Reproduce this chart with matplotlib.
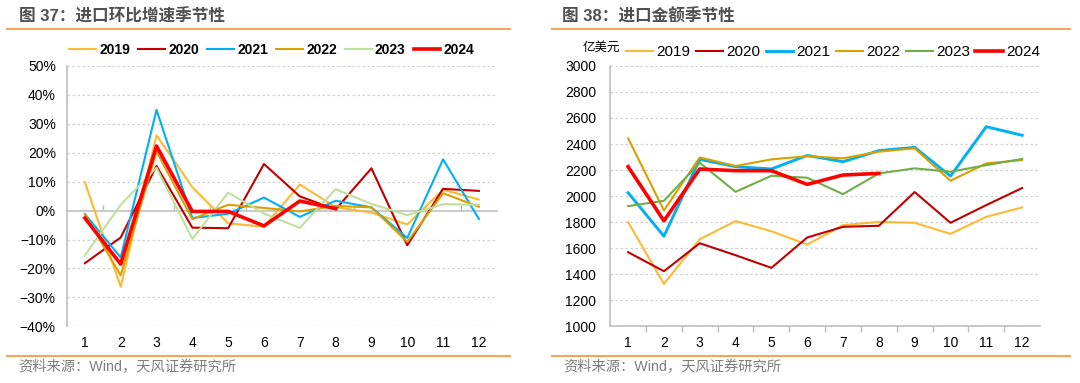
import numpy as np
import matplotlib
matplotlib.use("Agg")
from matplotlib import pyplot as plt
from matplotlib.lines import Line2D
from matplotlib.ticker import FuncFormatter, FixedLocator

plt.rcParams['font.family'] = ['Liberation Sans', 'Noto Sans CJK SC', 'DejaVu Sans']

months = [str(m) for m in range(1, 13)]
years = ['2019', '2020', '2021', '2022', '2023', '2024']

# 图37 进口环比增速 (%)
mom_2019 = [9.8, -26.3, 26.0, 8.1, -4.4, -5.6, 9.0, 1.2, -0.7, -4.8, 7.2, 3.8]
mom_2020 = [-18.2, -9.3, 15.4, -5.9, -6.1, 16.1, 4.9, 0.4, 14.6, -12.0, 7.5, 6.8]
mom_2021 = [-1.2, -16.2, 34.8, -2.6, -1.1, 4.5, -2.2, 3.4, 1.1, -9.5, 17.7, -2.9]
mom_2022 = [-1.3, -22.4, 20.5, -3.0, 2.0, 0.9, -0.3, 1.6, 1.1, -10.8, 6.0, 1.3]
mom_2023 = [-15.5, 2.0, 14.8, -9.8, 6.2, -1.0, -6.0, 7.4, 2.3, -1.6, 2.2, 2.0]
mom_2024 = [-2.6, -18.5, 22.3, -0.3, -0.3, -5.3, 3.3, 0.7]

# 图38 进口金额 (亿美元)
amt_2019 = [1800, 1326, 1669, 1808, 1730, 1628, 1777, 1802, 1795, 1710, 1841, 1913]
amt_2020 = [1569, 1423, 1638, 1546, 1449, 1682, 1764, 1772, 2031, 1795, 1931, 2062]
amt_2021 = [2026, 1692, 2282, 2226, 2208, 2312, 2264, 2349, 2374, 2154, 2533, 2467]
amt_2022 = [2444, 1890, 2297, 2231, 2282, 2306, 2290, 2341, 2367, 2118, 2251, 2277]
amt_2023 = [1923, 1964, 2256, 2033, 2156, 2141, 2015, 2174, 2213, 2187, 2238, 2285]
amt_2024 = [2226, 1810, 2208, 2195, 2195, 2090, 2162, 2174]

left_colors = ['#FDB934', '#C00000', '#00B0F0', '#D9A000', '#BFE09B', '#FF0000']
right_colors = ['#FDB934', '#C00000', '#00B0F0', '#D9A000', '#70AD47', '#FF0000']

fig = plt.figure(figsize=(10.8, 3.83), dpi=100)

grid_col = '#D0D0D0'
axis_col = '#BFBFBF'
rule_col = '#F5A45C'


def style_axes(ax, ypad):
    ax.set_xlim(-0.5, 11.5)
    ax.set_xticks(range(12))
    ax.set_xticklabels(months)
    ax.tick_params(axis='x', length=0, labelsize=10, pad=7, colors='#000000')
    ax.tick_params(axis='y', length=0, labelsize=10, pad=ypad)
    for s in ['top', 'right']:
        ax.spines[s].set_visible(False)
    ax.spines['left'].set_color(axis_col)
    ax.spines['left'].set_linewidth(1.2)
    ax.yaxis.grid(True, color=grid_col, linestyle=(0, (2, 2)), linewidth=0.9)
    ax.set_axisbelow(True)


# ---------------- left chart
ax1 = fig.add_axes([0.062, 0.148, 0.398, 0.680])
mom = [mom_2019, mom_2020, mom_2021, mom_2022, mom_2023, mom_2024]
for i, (yr, vals) in enumerate(zip(years, mom)):
    lw = 2.6 if yr == '2024' else 1.5
    ax1.plot(range(len(vals)), vals, color=left_colors[i], lw=lw, label=yr,
             zorder=3 + (2 if yr == '2024' else 0))
ax1.set_ylim(-40, 50)
ax1.set_yticks(range(-40, 51, 10))
ax1.yaxis.set_major_formatter(FuncFormatter(lambda v, p: f"{v:.0f}%".replace('-', '\u2212')))
style_axes(ax1, 8)
ax1.spines['bottom'].set_visible(False)
# zero line with category ticks
sec = ax1.secondary_xaxis(40 / 90)
sec.spines['bottom'].set_color(axis_col)
sec.spines['bottom'].set_linewidth(1.2)
sec.xaxis.set_major_locator(FixedLocator(np.arange(0.5, 11, 1)))
sec.tick_params(axis='x', length=4, width=1, colors=axis_col, labelbottom=False, direction='in')
ax1.legend(loc='center', bbox_to_anchor=(272 / 1080, 1 - 50 / 383), bbox_transform=fig.transFigure,
           ncol=6, frameon=False, handlelength=1.9, handletextpad=0.25, columnspacing=0.6,
           prop={'size': 10, 'weight': 'bold'})

# ---------------- right chart
ax2 = fig.add_axes([0.565, 0.148, 0.398, 0.680])
amt = [amt_2019, amt_2020, amt_2021, amt_2022, amt_2023, amt_2024]
for i, (yr, vals) in enumerate(zip(years, amt)):
    if yr == '2024':
        lw = 2.6
    elif yr == '2021':
        lw = 2.1
    else:
        lw = 1.5
    ax2.plot(range(len(vals)), vals, color=right_colors[i], lw=lw, label=yr,
             zorder=3 + (2 if yr == '2024' else 0))
ax2.set_ylim(1000, 3000)
ax2.set_yticks(range(1000, 3001, 200))
style_axes(ax2, 10)
ax2.spines['bottom'].set_color(axis_col)
ax2.spines['bottom'].set_linewidth(1.2)
ax2.xaxis.set_minor_locator(FixedLocator(np.arange(0.5, 11, 1)))
ax2.tick_params(axis='x', which='minor', length=4, width=1, colors=axis_col)
ax2.legend(loc='center', bbox_to_anchor=(833 / 1080, 1 - 52 / 383), bbox_transform=fig.transFigure,
           ncol=6, frameon=False, handlelength=1.8, handletextpad=0.2, columnspacing=0.35,
           prop={'size': 11})
fig.text(583 / 1080, 1 - 48 / 383, '亿美元', fontsize=9, ha='left', va='center', color='#000000')

# ---------------- titles, rules, sources
title_kw = dict(fontsize=12, color='#505050', ha='left', va='center', fontweight='bold')
fig.text(19 / 1080, 1 - 16 / 383, '图 37：进口环比增速季节性', **title_kw)
fig.text(562 / 1080, 1 - 16 / 383, '图 38：进口金额季节性', **title_kw)
src_kw = dict(fontsize=10.3, color='#7F7F7F', ha='left', va='center')
fig.text(18 / 1080, 1 - 367 / 383, '资料来源：Wind，天风证券研究所', **src_kw)
fig.text(563 / 1080, 1 - 367 / 383, '资料来源：Wind，天风证券研究所', **src_kw)

for x0, x1 in [(7, 510), (552, 1070)]:
    for yy in [29, 355.5]:
        fig.add_artist(Line2D([x0 / 1080, x1 / 1080], [1 - yy / 383, 1 - yy / 383],
                              color=rule_col, lw=1.5, transform=fig.transFigure))

fig.savefig('out.png', dpi=100)
